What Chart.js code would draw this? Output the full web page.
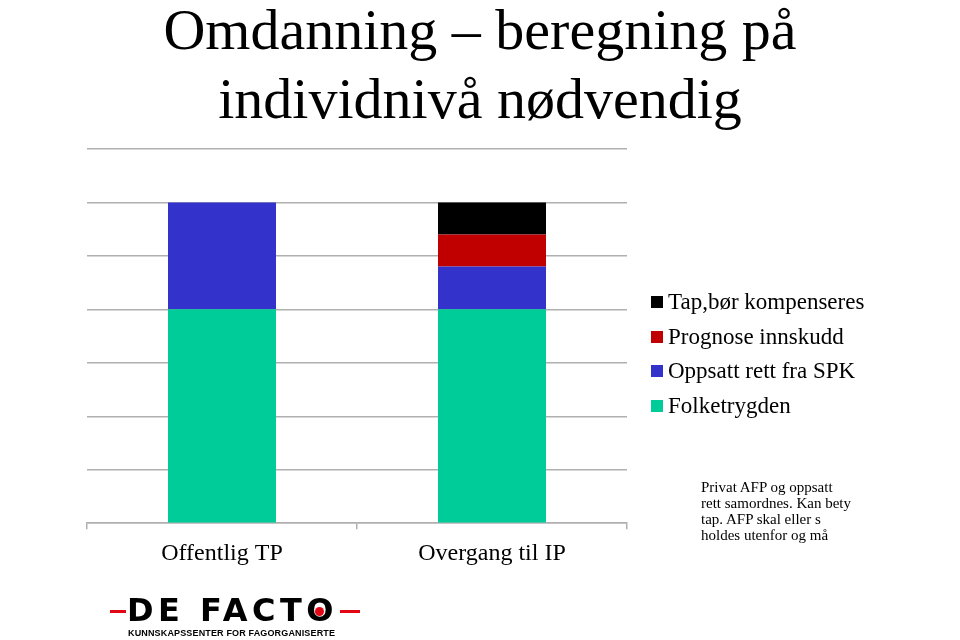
<!DOCTYPE html>
<html>
<head>
  <title>Omdanning – beregning på individnivå nødvendig</title>
  <style>
      body {
          margin: 0;
          padding: 0;
          background: #ffffff;
          font-family: "Liberation Serif", "Times New Roman", serif;
          color: #000;
      }
      #page {
          position: relative;
          width: 960px;
          height: 640px;
          overflow: hidden;
      }
      #chart {
          position: absolute;
          left: 0;
          top: 0;
      }
      .title {
          position: absolute;
          left: 0;
          width: 960px;
          text-align: center;
          font-size: 58px;
          line-height: 58px;
          white-space: nowrap;
      }
      #legend {
          position: absolute;
          left: 651px;
          top: 287px;
      }
      .legend-item {
          height: 34.7px;
          font-size: 23px;
          line-height: 30px;
          white-space: nowrap;
      }
      .legend-box {
          display: inline-block;
          width: 12px;
          height: 12px;
          margin-right: 5px;
          vertical-align: 1px;
      }
      #note {
          position: absolute;
          left: 701px;
          top: 479px;
          font-size: 15px;
          line-height: 16px;
      }
      #logo {
          position: absolute;
          left: 110px;
          top: 590px;
          width: 260px;
          height: 50px;
      }
      .logo-main {
          position: absolute;
          left: 17px;
          top: 3px;
          font-family: "DejaVu Sans", sans-serif;
          font-weight: bold;
          font-size: 32px;
          line-height: 34px;
          letter-spacing: 4.5px;
          white-space: nowrap;
      }
      .logo-o {
          position: relative;
          letter-spacing: 0;
      }
      .logo-o::after {
          content: "";
          position: absolute;
          left: 50%;
          top: 50%;
          width: 9px;
          height: 9px;
          margin-left: -4.5px;
          margin-top: -3.5px;
          border-radius: 50%;
          background: #e30613;
      }
      .logo-sub {
          position: absolute;
          left: 18px;
          top: 38px;
          font-family: "Liberation Sans", Arial, sans-serif;
          font-weight: bold;
          font-size: 9px;
          line-height: 10px;
          letter-spacing: 0.15px;
          white-space: nowrap;
      }
      .red-line {
          position: absolute;
          height: 3px;
          background: #e30613;
      }
  </style>
</head>
<body>
<div id="page">
  <canvas id="chart" width="960" height="640"></canvas>
  <div class="title" style="top: 1px;">Omdanning – beregning på</div>
  <div class="title" style="top: 70px;">individnivå nødvendig</div>
  <div id="legend"></div>
  <div id="note">Privat AFP og oppsatt<br>rett samordnes. Kan bety<br>tap. AFP skal eller s<br>holdes utenfor og må</div>
  <div id="logo">
      <div class="red-line" style="left: 0; top: 20px; width: 16px;"></div>
      <div class="logo-main">DE FACT<span class="logo-o">O</span></div>
      <div class="red-line" style="left: 230px; top: 20px; width: 20px;"></div>
      <div class="logo-sub">KUNNSKAPSSENTER FOR FAGORGANISERTE</div>
  </div>
</div>
<script src="https://cdn.jsdelivr.net/npm/chart.js"></script>
<script>
    const categories = ['Offentlig TP', 'Overgang til IP'];
    const folketrygden = [4, 4];
    const oppsattRett = [2, 0.8];
    const prognoseInnskudd = [0, 0.6];
    const tapKompenseres = [0, 0.6];
    const yTicks = [0, 1, 2, 3, 4, 5, 6, 7];

    const seriesNames = ['Folketrygden', 'Oppsatt rett fra SPK', 'Prognose innskudd', 'Tap,bør kompenseres'];
    const seriesColors = ['#00CC99', '#3333CC', '#C00000', '#000000'];
    const seriesData = [folketrygden, oppsattRett, prognoseInnskudd, tapKompenseres];

    const datasets = seriesNames.map((name, i) => ({
        label: name,
        data: seriesData[i],
        backgroundColor: seriesColors[i],
        borderWidth: 0,
        barPercentage: 0.4,
        categoryPercentage: 1.0
    }));

    const ctx = document.getElementById('chart').getContext('2d');
    const chart = new Chart(ctx, {
        type: 'bar',
        data: { labels: categories, datasets: datasets },
        options: {
            responsive: false,
            animation: false,
            layout: {
                padding: { left: 87, top: 149, right: 333, bottom: 62 }
            },
            plugins: {
                legend: { display: false },
                tooltip: { enabled: false }
            },
            scales: {
                x: {
                    stacked: true,
                    grid: {
                        drawOnChartArea: false,
                        drawTicks: true,
                        tickLength: 6,
                        color: '#b0b0b0',
                        lineWidth: 1.5
                    },
                    border: { display: true, color: '#b0b0b0', width: 1.5 },
                    ticks: {
                        color: '#000',
                        padding: 10,
                        font: { family: '"Liberation Serif", "Times New Roman", serif', size: 24 }
                    }
                },
                y: {
                    stacked: true,
                    min: yTicks[0],
                    max: yTicks[yTicks.length - 1],
                    afterBuildTicks: (axis) => {
                        axis.ticks = yTicks.map(v => ({ value: v }));
                    },
                    grid: {
                        color: '#b0b0b0',
                        lineWidth: 1.5,
                        drawTicks: false
                    },
                    border: { display: false },
                    ticks: { display: false }
                }
            }
        }
    });

    // legend, listed top series first like the original
    const legend = document.getElementById('legend');
    for (let i = seriesNames.length - 1; i >= 0; i--) {
        const item = document.createElement('div');
        item.className = 'legend-item';
        item.innerHTML = '<span class="legend-box" style="background:' + seriesColors[i] + '"></span>' + seriesNames[i];
        legend.appendChild(item);
    }
</script>
</body>
</html>
